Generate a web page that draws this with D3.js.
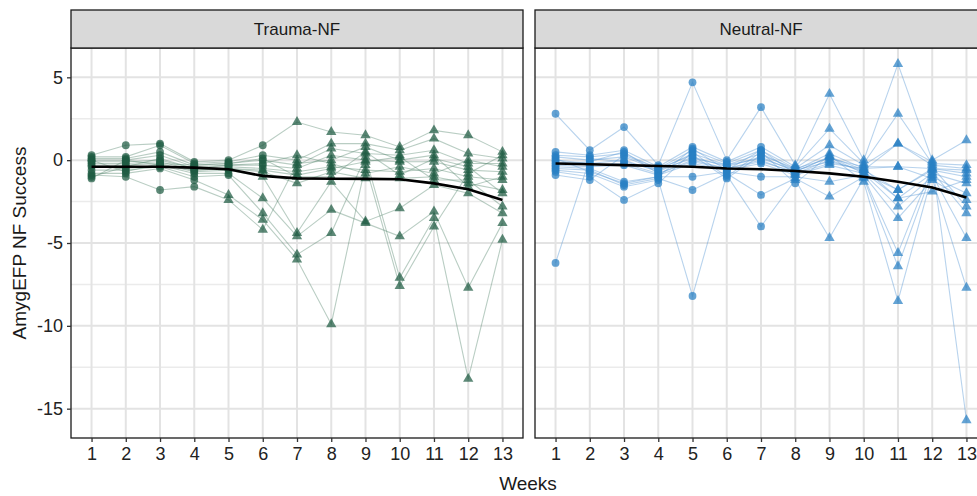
<!DOCTYPE html>
<html>
<head>
<meta charset="utf-8">
<script src="https://cdn.jsdelivr.net/npm/d3@7"></script>
<style>
  body { margin: 0; background: #fff; }
  text { font-family: "Liberation Sans", Arial, sans-serif; }
</style>
</head>
<body>
<svg id="chart"></svg>
<script>
const W = 977, H = 496;

const weeks = [1,2,3,4,5,6,7,8,9,10,11,12,13];
const groups = ["Trauma-NF", "Neutral-NF"];

// one row per subject, one value per week
const traumaSubjects = [
  [ 0.3,  0.9,  1.0, -0.1,  0.0,  0.9,  2.3,  1.7,  1.5,  0.8,  1.8,  1.5,  0.5],
  [ 0.2,  0.2,  0.9, -0.2, -0.1,  0.3,  0.0,  1.0,  1.0,  0.6,  1.3,  0.4,  0.1],
  [ 0.1,  0.1,  0.5, -0.3, -0.2,  0.0, -0.3,  0.7,  0.4,  0.3,  0.6, -0.2, -0.2],
  [ 0.0,  0.0,  0.3, -0.4, -0.3, -0.3, -0.5,  0.3,  0.0, -0.1, -0.1, -0.6, -0.7],
  [-0.1, -0.1,  0.0, -0.5, -0.4, -0.5, -0.7, -0.4, -0.6, -0.7, -0.5, -1.0, -1.2],
  [-0.2, -0.2, -0.1, -0.6, -0.5, -0.7, -1.4, -0.7, -1.1, -1.1, -1.0, -1.4, -1.8],
  [-0.3, -0.3, -0.2, -0.7, -0.6, -1.0, -4.4, -1.3, -3.7, -2.9, -1.5, -2.0, -3.2],
  [-0.4, -0.5, -0.3, -0.8, -0.8, -2.3, -4.6, -3.0, -3.8, -4.6, -3.1, -7.7, -3.8],
  [-0.6, -0.6, -0.4, -1.0, -0.9, -3.2, -5.7, -4.4,  0.2, -7.1, -3.5,-13.2, -4.8],
  [-0.8, -0.8, -0.5, -1.2, -2.1, -3.6, -6.0, -9.9, -0.3, -7.6, -4.0, -0.8,  0.3],
  [-0.9, -1.0, -1.8, -1.6, -2.4, -4.2, -0.2,  0.0,  0.8,  0.0,  0.3, -1.6, -1.0],
  [-1.0, -0.4,  0.1, -0.5, -0.3, -0.2,  0.3, -0.2, -0.8, -0.4, -0.8,  0.0, -0.4],
  [-1.1,  0.0, -0.3, -0.6, -0.5, -0.6, -0.9, -0.5, -0.1,  0.2, -1.2, -1.2, -2.8],
  [ 0.0, -0.7, -0.2, -0.3, -0.2,  0.1, -1.0, -1.0,  0.5, -0.9,  0.1, -0.4, -2.0]
];
// week from which each trauma subject is drawn with triangles
const traumaSwitch = [7,7,7,7,7,6,6,6,6,5,5,7,6,7];

const neutralSubjects = [
  [ 2.8,  0.6,  2.0, -0.3,  4.7,  0.0,  3.2, -0.3,  4.0,  0.0,  5.8,  0.0,  1.2],
  [ 0.5,  0.3,  0.6, -0.4,  0.8, -0.1,  0.8, -0.4,  1.9, -0.2,  2.8, -0.2, -0.3],
  [ 0.3,  0.2,  0.4, -0.5,  0.6, -0.2,  0.6, -0.5,  0.9, -0.3,  1.0, -0.3, -0.5],
  [ 0.2,  0.0,  0.2, -0.6,  0.4, -0.3,  0.4, -0.6,  0.4, -0.5, -0.4, -0.5, -0.8],
  [ 0.0, -0.2,  0.0, -0.7,  0.2, -0.4,  0.2, -0.7,  0.2, -0.6, -1.8, -0.6, -1.0],
  [-0.1, -0.3, -0.2, -0.8,  0.0, -0.5,  0.0, -0.8,  0.0, -0.7, -2.3, -0.8, -1.4],
  [-0.3, -0.4, -0.3, -0.9, -0.2, -0.6, -0.2, -0.9, -0.3, -0.8, -2.8, -1.0, -2.0],
  [-0.4, -0.5, -1.3, -1.0, -1.0, -0.7, -1.0, -1.0, -1.3, -0.9, -3.5, -1.2, -2.4],
  [-0.5, -0.6, -1.5, -1.1, -1.8, -0.8, -2.1, -1.1, -2.2, -1.0, -5.6, -0.4, -2.8],
  [-0.6, -0.8, -1.6, -1.2, -8.2, -0.9, -4.0, -1.2, -4.7, -1.1, -6.4, -0.7, -3.2],
  [-0.7, -1.0, -2.4, -1.4,  0.5, -1.0,  0.5, -1.4,  0.3, -1.3, -8.5, -0.9, -4.7],
  [-0.9, -1.2,  0.3, -0.5,  0.3, -1.1,  0.3, -0.5,  0.1, -0.4, -0.4, -1.1, -7.7],
  [-6.2,  0.1, -0.1, -0.6,  0.1, -0.3,  0.1, -0.6, -0.1, -0.6,  1.0, -0.1,-15.7],
  [-0.2, -0.1,  0.5, -0.8, -0.1, -0.5, -0.1, -0.7,  0.2, -0.8, -1.8, -0.5, -0.6],
  [ 0.1, -0.7, -1.4, -1.0,  0.7, -0.6,  0.6, -0.8, -0.2, -0.5, -2.3, -1.9, -1.2]
];
const neutralSwitch = [8,8,9,8,9,8,8,9,8,8,9,8,8,8,9];

// group-level fitted trajectories
const traumaFit  = [-0.4, -0.4, -0.4, -0.45, -0.55, -0.95, -1.1, -1.12, -1.13, -1.15, -1.4, -1.75, -2.4];
const neutralFit = [-0.2, -0.25, -0.3, -0.35, -0.4, -0.5, -0.55, -0.65, -0.8, -1.0, -1.3, -1.65, -2.25];

const yTicks = [5, 0, -5, -10, -15];
const yMinor = [2.5, -2.5, -7.5, -12.5];

const panelData = [
  {name: groups[0], subjects: traumaSubjects, sw: traumaSwitch, fit: traumaFit,
   point: "rgba(30,92,66,0.72)", line: "rgba(88,135,112,0.42)"},
  {name: groups[1], subjects: neutralSubjects, sw: neutralSwitch, fit: neutralFit,
   point: "rgba(40,128,196,0.72)", line: "rgba(98,158,214,0.45)"}
];

const svg = d3.select("#chart").attr("width", W).attr("height", H);

const panelTop = 48, panelBottom = 438, stripTop = 10;
const panels = [{x0: 71, x1: 523}, {x0: 535, x1: 987}];

const y = d3.scaleLinear().domain([-16.77, 6.77]).range([panelBottom, panelTop]);

const tri = d3.symbol().type(d3.symbolTriangle).size(46);
const fontFam = "'Liberation Sans', Arial, sans-serif";

panelData.forEach((p, k) => {
  const pos = panels[k];
  const x = d3.scaleLinear().domain([0.4, 13.6]).range([pos.x0, pos.x1]);
  const g = svg.append("g");

  // grid
  g.selectAll(".ymin").data(yMinor).join("line")
    .attr("x1", pos.x0).attr("x2", pos.x1)
    .attr("y1", d => y(d)).attr("y2", d => y(d))
    .attr("stroke", "#ebebeb").attr("stroke-width", 1.5);
  g.selectAll(".ymaj").data(yTicks).join("line")
    .attr("x1", pos.x0).attr("x2", pos.x1)
    .attr("y1", d => y(d)).attr("y2", d => y(d))
    .attr("stroke", "#e3e3e3").attr("stroke-width", 2);
  g.selectAll(".xmaj").data(weeks).join("line")
    .attr("x1", d => x(d)).attr("x2", d => x(d))
    .attr("y1", panelTop).attr("y2", panelBottom)
    .attr("stroke", "#e3e3e3").attr("stroke-width", 2);

  // subject lines
  const line = d3.line().x((d, i) => x(weeks[i])).y(d => y(d));
  g.selectAll(".subj").data(p.subjects).join("path")
    .attr("d", line)
    .attr("fill", "none")
    .attr("stroke", p.line)
    .attr("stroke-width", 1.1);

  // points
  p.subjects.forEach((s, j) => {
    s.forEach((v, i) => {
      if (weeks[i] < p.sw[j]) {
        g.append("circle").attr("cx", x(weeks[i])).attr("cy", y(v))
          .attr("r", 3.9).attr("fill", p.point);
      } else {
        g.append("path").attr("d", tri)
          .attr("transform", `translate(${x(weeks[i])},${y(v)})`)
          .attr("fill", p.point);
      }
    });
  });

  // fitted line
  g.append("path").datum(p.fit).attr("d", line)
    .attr("fill", "none").attr("stroke", "#000").attr("stroke-width", 2.6);

  // border
  g.append("rect").attr("x", pos.x0).attr("y", panelTop)
    .attr("width", pos.x1 - pos.x0).attr("height", panelBottom - panelTop)
    .attr("fill", "none").attr("stroke", "#1a1a1a").attr("stroke-width", 1.3);

  // strip
  g.append("rect").attr("x", pos.x0).attr("y", stripTop)
    .attr("width", pos.x1 - pos.x0).attr("height", panelTop - stripTop)
    .attr("fill", "#d9d9d9").attr("stroke", "#1a1a1a").attr("stroke-width", 1.3);
  g.append("text").attr("x", (pos.x0 + pos.x1) / 2).attr("y", 35)
    .attr("text-anchor", "middle").attr("font-size", 17).attr("fill", "#1a1a1a")
    .text(p.name);

  // x axis
  const xa = g.append("g").attr("transform", `translate(0,${panelBottom})`)
    .call(d3.axisBottom(x).tickValues(weeks).tickSize(4).tickPadding(5).tickFormat(d => String(d)));
  xa.select(".domain").remove();
  xa.selectAll("line").attr("stroke", "#333").attr("stroke-width", 1.3);
  xa.selectAll("text").attr("font-size", 18).attr("fill", "#222")
    .style("font-family", fontFam);

  if (k === 0) {
    const ya = g.append("g").attr("transform", `translate(${pos.x0},0)`)
      .call(d3.axisLeft(y).tickValues(yTicks).tickSize(4).tickPadding(4).tickFormat(d => String(d)));
    ya.select(".domain").remove();
    ya.selectAll("line").attr("stroke", "#333").attr("stroke-width", 1.3);
    ya.selectAll("text").attr("font-size", 18).attr("fill", "#222")
      .style("font-family", fontFam);
  }
});

svg.append("text").attr("x", 528).attr("y", 490)
  .attr("text-anchor", "middle").attr("font-size", 19).attr("fill", "#1a1a1a")
  .text("Weeks");
svg.append("text")
  .attr("transform", `translate(26,${(panelTop + panelBottom) / 2}) rotate(-90)`)
  .attr("text-anchor", "middle").attr("font-size", 19).attr("fill", "#1a1a1a")
  .text("AmygEFP NF Success");
</script>
</body>
</html>
